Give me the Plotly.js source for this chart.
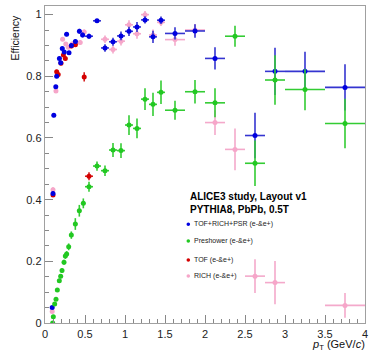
<!DOCTYPE html>
<html>
<head>
<meta charset="utf-8">
<script src="https://cdn.plot.ly/plotly-3.0.1.min.js"></script>
<style>
html,body{margin:0;padding:0;background:#fff;}
#chart{width:370px;height:352px;}
</style>
</head>
<body>
<div id="chart"></div>
<script>
// ---- data ----
// TOF+RICH+PSR (e-&e+)
const combX  = [0.09,0.10,0.11,0.135,0.146,0.18,0.196,0.216,0.24,0.27,0.30,0.33,0.38,0.43,0.47,0.55,0.65,0.75,0.85,0.95,1.05,1.15,1.25,1.35,1.45,1.625,1.875,2.125,2.625,2.875,3.25,3.75];
const combY  = [0.05,0.42,0.674,0.766,0.80,0.858,0.844,0.89,0.879,0.936,0.876,0.90,0.913,0.946,0.934,0.93,0.98,0.892,0.912,0.931,0.946,0.96,0.983,0.928,0.982,0.939,0.947,0.858,0.608,0.816,0.816,0.764];
const combEY = [0.005,0.008,0.007,0.006,0.006,0.006,0.006,0.006,0.006,0.006,0.006,0.007,0.007,0.008,0.008,0.008,0.006,0.012,0.013,0.014,0.015,0.016,0.012,0.02,0.012,0.02,0.022,0.036,0.074,0.077,0.064,0.075];
const combEX = [0.004,0.004,0.004,0.006,0.006,0.008,0.008,0.008,0.01,0.012,0.015,0.015,0.025,0.025,0.025,0.05,0.05,0.05,0.05,0.05,0.05,0.05,0.05,0.05,0.05,0.125,0.125,0.125,0.125,0.125,0.25,0.25];

// Preshower (e-&e+)
const preX  = [0.096,0.104,0.121,0.1375,0.154,0.179,0.196,0.2125,0.2375,0.254,0.271,0.296,0.329,0.379,0.429,0.479,0.55,0.65,0.75,0.85,0.95,1.05,1.15,1.25,1.35,1.45,1.625,1.875,2.125,2.375,2.625,2.875,3.25,3.75];
const preY  = [0.0,0.02,0.062,0.077,0.107,0.137,0.152,0.17,0.197,0.217,0.224,0.247,0.285,0.321,0.364,0.388,0.442,0.509,0.494,0.561,0.559,0.642,0.631,0.726,0.709,0.748,0.69,0.75,0.714,0.93,0.518,0.788,0.757,0.647];
const preEY = [0.003,0.004,0.005,0.005,0.006,0.006,0.007,0.007,0.008,0.009,0.009,0.011,0.012,0.019,0.019,0.016,0.016,0.015,0.017,0.023,0.024,0.032,0.032,0.035,0.038,0.038,0.031,0.038,0.047,0.034,0.074,0.08,0.067,0.08];
const preEX = [0.004,0.004,0.006,0.006,0.006,0.008,0.008,0.008,0.01,0.01,0.01,0.0125,0.0125,0.025,0.025,0.025,0.05,0.05,0.05,0.05,0.05,0.05,0.05,0.05,0.05,0.05,0.125,0.125,0.125,0.125,0.125,0.125,0.25,0.25];

// TOF (e-&e+)
const tofX  = [0.10,0.146,0.165,0.20,0.23,0.254,0.33,0.38,0.49,0.55];
const tofY  = [0.415,0.815,0.806,0.842,0.869,0.858,0.898,0.902,0.798,0.476];
const tofEY = [0.006,0.006,0.006,0.006,0.006,0.006,0.007,0.007,0.015,0.013];
const tofEX = [0.004,0.006,0.006,0.008,0.01,0.01,0.015,0.02,0.01,0.05];

// RICH (e-&e+)
const richX  = [0.09,0.10,0.137,0.22,0.26,0.29,0.34,0.39,0.44,0.49,0.75,0.85,0.95,1.05,1.15,1.25,1.35,1.45,1.625,1.875,2.125,2.375,2.625,2.875,3.75];
const richY  = [0.037,0.432,0.752,0.92,0.905,0.894,0.905,0.909,0.91,0.944,0.92,0.887,0.914,0.967,0.938,1.0,0.934,0.975,0.919,0.95,0.65,0.563,0.152,0.131,0.057];
const richEY = [0.005,0.008,0.006,0.006,0.006,0.006,0.007,0.007,0.008,0.008,0.012,0.013,0.014,0.015,0.016,0.012,0.018,0.012,0.02,0.02,0.04,0.068,0.055,0.07,0.04];
const richEX = [0.004,0.004,0.006,0.008,0.01,0.012,0.015,0.02,0.025,0.025,0.05,0.05,0.05,0.05,0.05,0.05,0.05,0.05,0.125,0.125,0.125,0.125,0.125,0.125,0.25];

const legendNames = ["TOF+RICH+PSR (e-&e+)","Preshower (e-&e+)","TOF (e-&e+)","RICH (e-&e+)"];
const colBlue = "#0000e0", colGreen = "#22c822", colRed = "#d40000", colPink = "#f6a6c9";

function tr(x,y,ex,ey,mc,lc){
  return {type:"scatter",mode:"markers",x:x,y:y,showlegend:false,hoverinfo:"skip",
    marker:{color:mc,size:5,line:{width:0}},
    error_y:{type:"data",array:ey,visible:true,color:lc,thickness:1.6,width:0},
    error_x:{type:"data",array:ex,visible:true,color:lc,thickness:1.6,width:0}};
}
const data = [
  tr(richX,richY,richEX,richEY,colPink,"#f4a9cb"),
  tr(tofX,tofY,tofEX,tofEY,colRed,"#d42020"),
  tr(combX,combY,combEX,combEY,colBlue,"#3535d0"),
  tr(preX,preY,preEX,preEY,colGreen,"#33cc33")
];

const F = "Liberation Sans, Arial, Helvetica, sans-serif";
// pixel helpers (plot area: x 45..365, y 6..323)
const L=45,R=365,T=6,B=323;
const px = p => (p-L)/(R-L);
const py = p => (B-p)/(B-T);

const legCols=[colBlue,colGreen,colRed,colPink];
const legY=[224.3,241,260,276];
const shapes = legCols.map((c,i)=>({type:"circle",xref:"paper",yref:"paper",xsizemode:"pixel",ysizemode:"pixel",
  xanchor:px(188.3),yanchor:py(legY[i]),x0:-1.8,x1:1.8,y0:-1.8,y1:1.8,fillcolor:c,line:{width:0}}));

const annotations = [
  {text:"ALICE3 study, Layout v1",x:px(187.5),y:py(196.5),xref:"paper",yref:"paper",xanchor:"left",yanchor:"middle",showarrow:false,font:{family:F,size:10,color:"#000",weight:"bold"}},
  {text:"PYTHIA8, PbPb, 0.5T",x:px(187.5),y:py(209.5),xref:"paper",yref:"paper",xanchor:"left",yanchor:"middle",showarrow:false,font:{family:F,size:10,color:"#000",weight:"bold"}},
  {text:"Efficiency",x:px(15),y:py(14),xref:"paper",yref:"paper",xanchor:"center",yanchor:"top",textangle:-90,showarrow:false,font:{family:F,size:10.5,color:"#111"}},
  {text:"<i>p</i><sub>T</sub> (GeV/<i>c</i>)",x:px(367),y:py(345),xref:"paper",yref:"paper",xanchor:"right",yanchor:"middle",showarrow:false,font:{family:F,size:11,color:"#111"}}
].concat(legendNames.map((n,i)=>({text:n,x:px(191.5),y:py(legY[i]),xref:"paper",yref:"paper",xanchor:"left",yanchor:"middle",showarrow:false,font:{family:F,size:7,color:"#222"}})));

const axisCommon = {showgrid:false,zeroline:false,showline:true,mirror:true,linecolor:"#a0a0a0",linewidth:1.3,
  ticks:"inside",tickcolor:"#888",tickwidth:1,ticklen:8,tickfont:{family:F,size:11,color:"#222"}};

const layout = {
  width:370,height:352,paper_bgcolor:"#fff",plot_bgcolor:"#fff",
  margin:{l:L,r:370-R,t:T,b:352-B},
  xaxis:Object.assign({},axisCommon,{range:[0,4],dtick:0.5,tick0:0,minor:{dtick:0.1,ticks:"inside",ticklen:4,tickcolor:"#888"}}),
  yaxis:Object.assign({},axisCommon,{range:[0,1.028],dtick:0.2,tick0:0,minor:{dtick:0.05,ticks:"inside",ticklen:4,tickcolor:"#888"}}),
  shapes:shapes,annotations:annotations
};
Plotly.newPlot("chart",data,layout,{displayModeBar:false,staticPlot:true});
</script>
</body>
</html>
